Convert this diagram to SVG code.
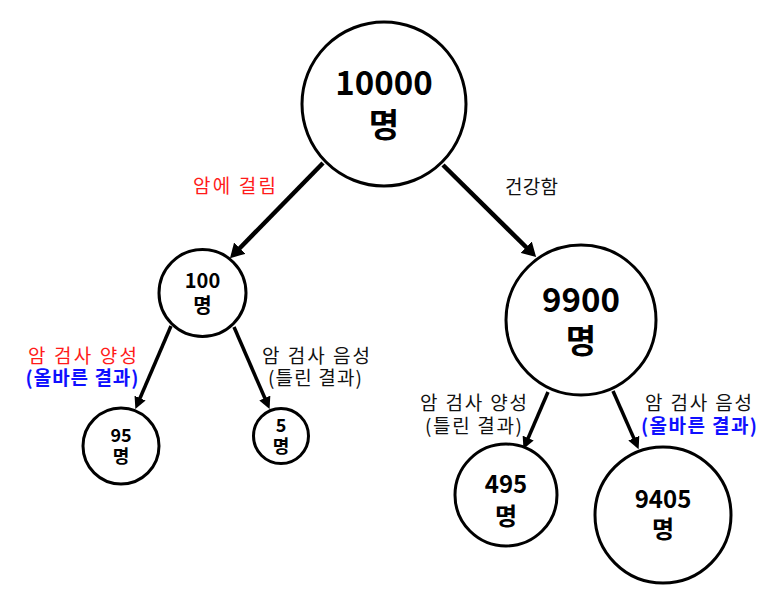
<svg xmlns="http://www.w3.org/2000/svg" width="779" height="596" viewBox="0 0 779 596">
<style>
.node{fill:#fff;stroke:#000;stroke-width:3}
.num{font-family:"Noto Sans CJK KR","Noto Sans",sans-serif;font-weight:bold;fill:#000;text-anchor:middle}
.lbl{font-family:"Noto Sans CJK KR","Noto Sans",sans-serif;font-size:19px;text-anchor:middle;fill:#111}
.red{fill:#ff1a1a}
.blue{fill:#1010ff;font-weight:bold}
.edge{stroke:#000;fill:none}
</style>
<defs>
<marker id="ah" markerUnits="userSpaceOnUse" markerWidth="18" markerHeight="16" refX="4" refY="8" orient="auto" viewBox="0 0 18 16">
<path d="M0,0 L14,8 L0,16 z" fill="#000"/>
</marker>
<marker id="ahs" markerUnits="userSpaceOnUse" markerWidth="14" markerHeight="12" refX="3" refY="6" orient="auto" viewBox="0 0 14 12">
<path d="M0,0 L12,6 L0,12 z" fill="#000"/>
</marker>
</defs>
<rect width="779" height="596" fill="#fff"/>
<g id="connectors">
<line class="edge" stroke-width="4.5" x1="323" y1="163" x2="237" y2="251" marker-end="url(#ah)"/>
<line class="edge" stroke-width="4.5" x1="443" y1="165" x2="529" y2="250" marker-end="url(#ah)"/>
<line class="edge" stroke-width="3.5" x1="171" y1="326" x2="138.9" y2="400.8" marker-end="url(#ahs)"/>
<line class="edge" stroke-width="3.5" x1="234" y1="327" x2="266" y2="400.8" marker-end="url(#ahs)"/>
<line class="edge" stroke-width="3.5" x1="548" y1="392" x2="527" y2="440.8" marker-end="url(#ahs)"/>
<line class="edge" stroke-width="3.5" x1="613" y1="391" x2="635" y2="440.9" marker-end="url(#ahs)"/>
</g>
<g id="edge-labels">
<text class="lbl red" x="234.5" y="193" textLength="83" lengthAdjust="spacing">암에 걸림</text>
<text class="lbl" x="531.5" y="194" textLength="53" lengthAdjust="spacing">건강함</text>
<text class="lbl red" x="82.5" y="363" textLength="109" lengthAdjust="spacing">암 검사 양성</text>
<text class="lbl blue" x="82" y="385" textLength="113" lengthAdjust="spacing">(올바른 결과)</text>
<text class="lbl" x="316" y="363" textLength="108" lengthAdjust="spacing">암 검사 음성</text>
<text class="lbl" x="315" y="385" textLength="94" lengthAdjust="spacing">(틀린 결과)</text>
<text class="lbl" x="473.5" y="410" textLength="107" lengthAdjust="spacing">암 검사 양성</text>
<text class="lbl" x="473.5" y="433" textLength="97" lengthAdjust="spacing">(틀린 결과)</text>
<text class="lbl" x="698.5" y="410" textLength="107" lengthAdjust="spacing">암 검사 음성</text>
<text class="lbl blue" x="699" y="433" textLength="116" lengthAdjust="spacing">(올바른 결과)</text>
</g>
<g id="n10000">
<circle class="node" cx="384" cy="104" r="82"/>
<text class="num" x="384" y="95" font-size="33">10000</text>
<text class="num" x="384" y="137" font-size="33">명</text>
</g>
<g id="n100">
<circle class="node" cx="202.5" cy="293" r="43.5"/>
<text class="num" x="202.5" y="288" font-size="20">100</text>
<text class="num" x="202.5" y="313" font-size="20">명</text>
</g>
<g id="n9900">
<circle class="node" cx="581" cy="320" r="75"/>
<text class="num" x="581" y="312" font-size="33">9900</text>
<text class="num" x="581" y="353" font-size="33">명</text>
</g>
<g id="n95">
<circle class="node" cx="121" cy="446" r="38"/>
<text class="num" x="121" y="442" font-size="18">95</text>
<text class="num" x="121" y="463" font-size="18">명</text>
</g>
<g id="n5">
<circle class="node" cx="281" cy="436" r="27.5"/>
<text class="num" x="281" y="432" font-size="18">5</text>
<text class="num" x="281" y="453" font-size="18">명</text>
</g>
<g id="n495">
<circle class="node" cx="506" cy="495" r="51"/>
<text class="num" x="506" y="493" font-size="24">495</text>
<text class="num" x="506" y="525" font-size="24">명</text>
</g>
<g id="n9405">
<circle class="node" cx="663" cy="515" r="68"/>
<text class="num" x="663" y="508" font-size="24">9405</text>
<text class="num" x="663" y="538" font-size="24">명</text>
</g>
</svg>
